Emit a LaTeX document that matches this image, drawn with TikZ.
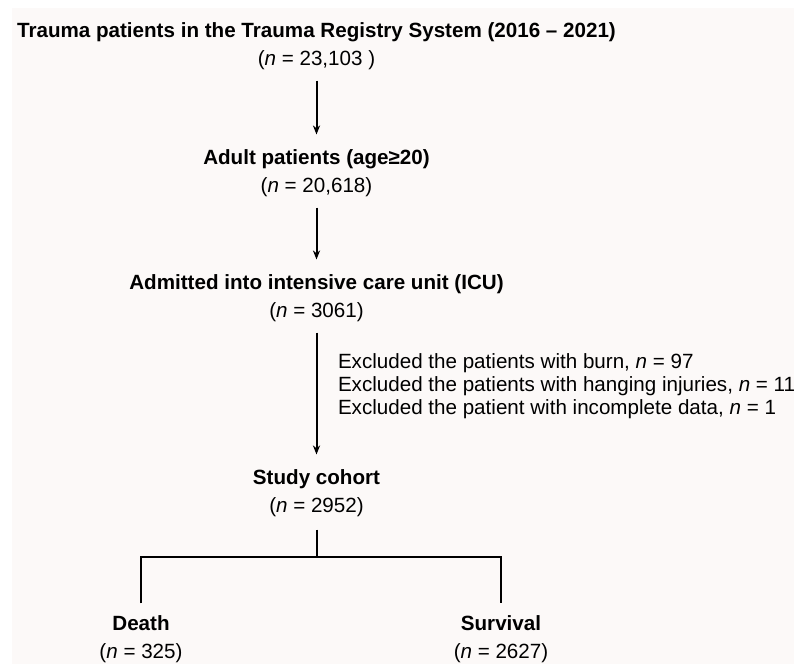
\documentclass[tikz,border=0pt]{standalone}
\usepackage{fontspec}
\setmainfont{Liberation Sans}
\usetikzlibrary{arrows.meta}
\definecolor{bgpink}{RGB}{252,249,248}
\newcommand{\nval}[1]{(\textit{n} = #1)}

\begin{document}
\begin{tikzpicture}[x=0.5pt,y=-0.5pt]
        \tikzstyle{block}=[align=center,inner sep=0pt,outer sep=0pt,
                font=\fontsize{10.3}{14}\selectfont]
        \tikzstyle{note}=[align=left,anchor=west,inner sep=0pt,outer sep=0pt,
                font=\fontsize{10.3}{11.5}\selectfont]
        \tikzstyle{flow}=[line width=1pt,-{Stealth[length=4.5pt,width=3.6pt]},
                shorten <=5.5pt,shorten >=7.5pt]
        \tikzstyle{split}=[line width=1pt]
        \useasboundingbox (0,0) rectangle (794,664);
        \fill[bgpink] (12,8) rectangle (794,664);
        % boxes of the flow chart
        \node[block] (registry) at (316.5,46)
                {\textbf{Trauma patients in the Trauma Registry System (2016 -- 2021)}\\
                 (\textit{n} = 23,103 )};
        \node[block] (adult) at (316.5,173)
                {\textbf{Adult patients (age≥20)}\\ \nval{20,618}};
        \node[block] (icu) at (316.5,298)
                {\textbf{Admitted into intensive care unit (ICU)}\\ \nval{3061}};
        \node[note] (excluded) at (338,386.5)
                {Excluded the patients with burn, \textit{n} = 97\\
                 Excluded the patients with hanging injuries, \textit{n} = 11\\
                 Excluded the patient with incomplete data, \textit{n} = 1};
        \node[block] (cohort) at (316.5,493)
                {\textbf{Study cohort}\\ \nval{2952}};
        \node[block] (death) at (141,639)
                {\textbf{Death}\\ \nval{325}};
        \node[block] (survival) at (501,639)
                {\textbf{Survival}\\ \nval{2627}};
        \coordinate (fork) at (316.5,557);
        % connectors
        \draw[flow] (registry) -- (adult);
        \draw[flow] (adult) -- (icu);
        \draw[flow] (icu) -- (cohort);
        \draw[split,shorten <=6.5pt] (cohort) -- (fork);
        \draw[split,shorten <=6pt,shorten >=6pt] (death.north) |- (fork) -| (survival.north);
\end{tikzpicture}
\end{document}
